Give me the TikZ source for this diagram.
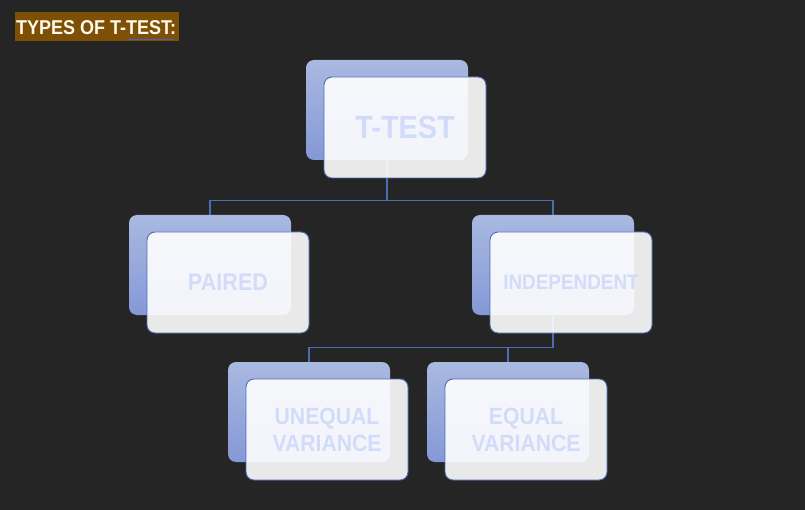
\documentclass[tikz,border=0pt]{standalone}
\usepackage{fontspec}
\setmainfont{Liberation Sans}
% slightly condensed lettering
\newcommand{\nrw}[1]{\scalebox{0.9}[1]{#1}}
\begin{document}
\definecolor{bgdark}{RGB}{37,37,37}
\definecolor{titlebrown}{RGB}{125,80,5}
\definecolor{titletext}{RGB}{255,249,235}
\definecolor{backtop}{RGB}{170,185,225}
\definecolor{backbot}{RGB}{132,152,214}
\definecolor{edgeblue}{RGB}{76,110,180}
\definecolor{textblue}{RGB}{210,220,250}
\definecolor{spellblue}{RGB}{70,100,190}
\begin{tikzpicture}[x=1pt,y=-1pt,
  backbox/.style={rectangle,rounded corners=8pt,minimum width=162pt,minimum height=100pt,
    inner sep=0pt,top color=backtop,bottom color=backbot,draw=none},
  frontbox/.style={rectangle,rounded corners=8pt,minimum width=162pt,minimum height=101pt,
    inner sep=0pt,fill=white,fill opacity=0.9,text opacity=1,draw=edgeblue,line width=0.9pt,
    text=textblue,font=\bfseries,align=center},
  conn/.style={draw=edgeblue,line width=1.3pt}]
\useasboundingbox (0,0) rectangle (805,510);
\fill[bgdark] (0,0) rectangle (805,510);

% heading
\node[fill=titlebrown,minimum width=164pt,minimum height=29pt,inner sep=0pt] (title) at (97,26.5) {};
\node[anchor=west,text=titletext,font=\bfseries\fontsize{20}{22}\selectfont,inner sep=0pt]
  (titletxt) at (16,27.5) {\nrw{TYPES OF T-TEST:}};
\coordinate (ulA) at (127,39);
\coordinate (ulB) at (174,39);
\draw[spellblue,line width=0.8pt] (ulA) -- (ulB);

% back boxes
\node[backbox] (ttb) at (387,110) {};
\node[backbox] (pab) at (210,265) {};
\node[backbox] (inb) at (553,265) {};
\node[backbox] (unb) at (309,412) {};
\node[backbox] (eqb) at (508,412) {};

% connectors
\draw[conn] (ttb.south) -- ++(0,40) -| (pab.north);
\draw[conn] (ttb.south) -- ++(0,40) -| (inb.north);
\draw[conn] (inb.south) -- ++(0,32) -| (unb.north);
\draw[conn] (inb.south) -- ++(0,32) -| (eqb.north);

% front boxes
\node[frontbox,font=\bfseries\fontsize{32}{34}\selectfont] (ttf) at (405,127.5) {\nrw{T-TEST}};
\node[frontbox,font=\bfseries\fontsize{24}{26}\selectfont] (paf) at (228,282.5) {\nrw{PAIRED}};
\node[frontbox,font=\bfseries\fontsize{21}{22}\selectfont] (inf) at (571,282.5) {\nrw{INDEPENDENT}};
\node[frontbox,font=\bfseries\fontsize{23.5}{27}\selectfont] (unf) at (327,429.5) {\nrw{UNEQUAL}\\\nrw{VARIANCE}};
\node[frontbox,font=\bfseries\fontsize{23.5}{27}\selectfont] (eqf) at (526,429.5) {\nrw{EQUAL}\\\nrw{VARIANCE}};
\end{tikzpicture}
\end{document}
